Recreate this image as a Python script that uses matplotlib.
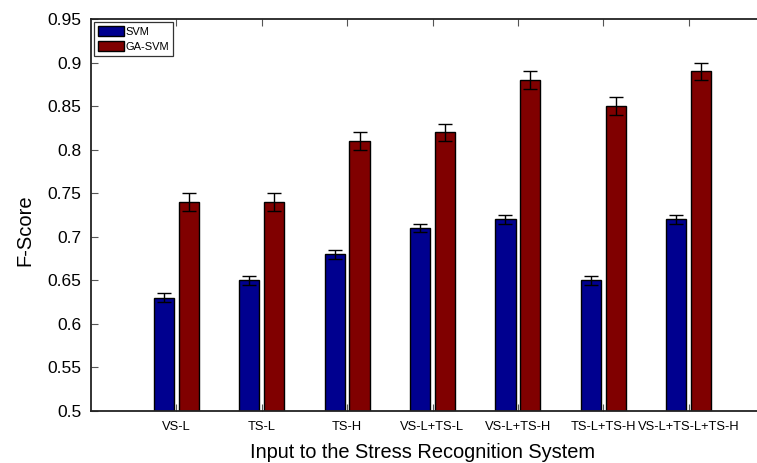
import matplotlib
matplotlib.use("Agg")
import matplotlib.pyplot as plt
import numpy as np

plt.rcParams['font.family'] = ['Liberation Sans', 'DejaVu Sans']

categories = ["VS-L", "TS-L", "TS-H", "VS-L+TS-L", "VS-L+TS-H", "TS-L+TS-H", "VS-L+TS-L+TS-H"]
svm = [0.63, 0.65, 0.68, 0.71, 0.72, 0.65, 0.72]
svm_err = [0.005, 0.005, 0.005, 0.005, 0.005, 0.005, 0.005]
ga_svm = [0.74, 0.74, 0.81, 0.82, 0.88, 0.85, 0.89]
ga_svm_err = [0.01, 0.01, 0.01, 0.01, 0.01, 0.01, 0.01]
yticks = [0.5, 0.55, 0.6, 0.65, 0.7, 0.75, 0.8, 0.85, 0.9, 0.95]

fig = plt.figure(figsize=(7.57, 4.63), dpi=100)
W, H = 757, 463
left, right, top, bottom = 91, 774, 19, 411
ax = fig.add_axes([left / W, 1 - bottom / H, (right - left) / W, (bottom - top) / H])

x = np.arange(1, len(categories) + 1)
bw = 0.235
off = 0.145
ax.bar(x - off, svm, bw, color='#00008F', edgecolor='black', linewidth=1.0,
       label='SVM', zorder=2)
ax.bar(x + off, ga_svm, bw, color='#800000', edgecolor='black', linewidth=1.0,
       label='GA-SVM', zorder=2)
ax.errorbar(x - off, svm, yerr=svm_err, fmt='none', ecolor='black', elinewidth=1.0,
            capsize=5, capthick=1.0, zorder=3)
ax.errorbar(x + off, ga_svm, yerr=ga_svm_err, fmt='none', ecolor='black', elinewidth=1.0,
            capsize=5, capthick=1.0, zorder=3)

ax.set_xlim(0, 8)
ax.set_ylim(0.5, 0.95)
ax.set_xticks(x)
ax.set_xticklabels(categories, fontsize=9.3)
ax.set_yticks(yticks)
ax.set_yticklabels([f"{v:g}" for v in yticks], fontsize=12.5)
ax.tick_params(direction='in', top=True, right=True, length=5, width=0.8, color='#555555')
ax.tick_params(axis='x', pad=7)
ax.tick_params(axis='y', pad=7)
for s in ax.spines.values():
    s.set_linewidth(1.3)
    s.set_color('#222222')

ax.set_xlabel("Input to the Stress Recognition System", fontsize=14.4, va='center')
ax.xaxis.set_label_coords((423 - left) / (right - left), -(452 - bottom) / (bottom - top))
ax.set_ylabel("F-Score", fontsize=14.5, va='center')
ax.yaxis.set_label_coords(-(left - 25) / (right - left), (bottom - 230) / (bottom - top))

leg = ax.legend(loc='upper left', fontsize=8, frameon=True, fancybox=False,
                edgecolor='black', borderpad=0.35, handlelength=2.3, handleheight=1.0,
                handletextpad=0.15, labelspacing=0.35, borderaxespad=0.3)
leg.get_frame().set_linewidth(0.9)
for p in leg.get_patches():
    p.set_edgecolor('black')

fig.savefig("out.png", dpi=100)
